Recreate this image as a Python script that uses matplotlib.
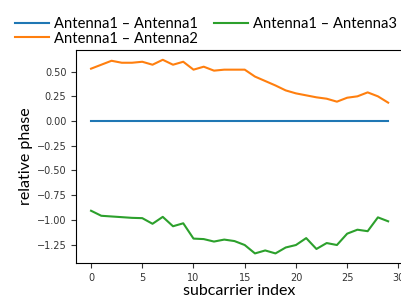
import numpy as np
import matplotlib.pyplot as plt

subcarrier = np.arange(30)

ant1_ant1 = [0.0] * 30
ant1_ant2 = [0.53, 0.57, 0.61, 0.59, 0.59, 0.60, 0.57, 0.62, 0.57, 0.60,
             0.52, 0.55, 0.51, 0.52, 0.52, 0.52, 0.45, 0.405, 0.36, 0.31,
             0.28, 0.26, 0.24, 0.226, 0.196, 0.236, 0.25, 0.29, 0.25, 0.186]
ant1_ant3 = [-0.908, -0.959, -0.966, -0.973, -0.98, -0.983, -1.04, -0.97, -1.065, -1.035,
             -1.19, -1.195, -1.22, -1.20, -1.215, -1.255, -1.34, -1.31, -1.34, -1.28,
             -1.255, -1.185, -1.295, -1.235, -1.255, -1.14, -1.10, -1.115, -0.975, -1.015]

label_font = ['Lato', 'DejaVu Sans']

fig = plt.figure(figsize=(4.01, 3.0), dpi=100)
ax = fig.add_axes([0.19, 0.123, 0.815, 0.71])

ax.plot(subcarrier, ant1_ant1, color='#1f77b4', lw=1.5, label='Antenna1 – Antenna1')
ax.plot(subcarrier, ant1_ant2, color='#ff7f0e', lw=1.5, label='Antenna1 – Antenna2')
ax.plot(subcarrier, ant1_ant3, color='#2ca02c', lw=1.5, label='Antenna1 – Antenna3')

ax.set_xticks([0, 5, 10, 15, 20, 25, 30])
ax.set_yticks([-1.25, -1.0, -0.75, -0.5, -0.25, 0.0, 0.25, 0.5])
ax.tick_params(labelsize=7, colors='#333333')
ax.set_xlabel('subcarrier index', fontsize=11.5, family=label_font, labelpad=1)
ax.set_ylabel('relative phase', fontsize=11.5, family=label_font, labelpad=3)

ax.legend(ncol=2, loc='lower left', bbox_to_anchor=(-0.215, 0.98), frameon=False,
          prop={'family': label_font, 'size': 10.6}, handlelength=2.3,
          borderpad=0.1, labelspacing=0.05, columnspacing=1.1, handletextpad=0.35)

fig.savefig('out.png', dpi=100)
